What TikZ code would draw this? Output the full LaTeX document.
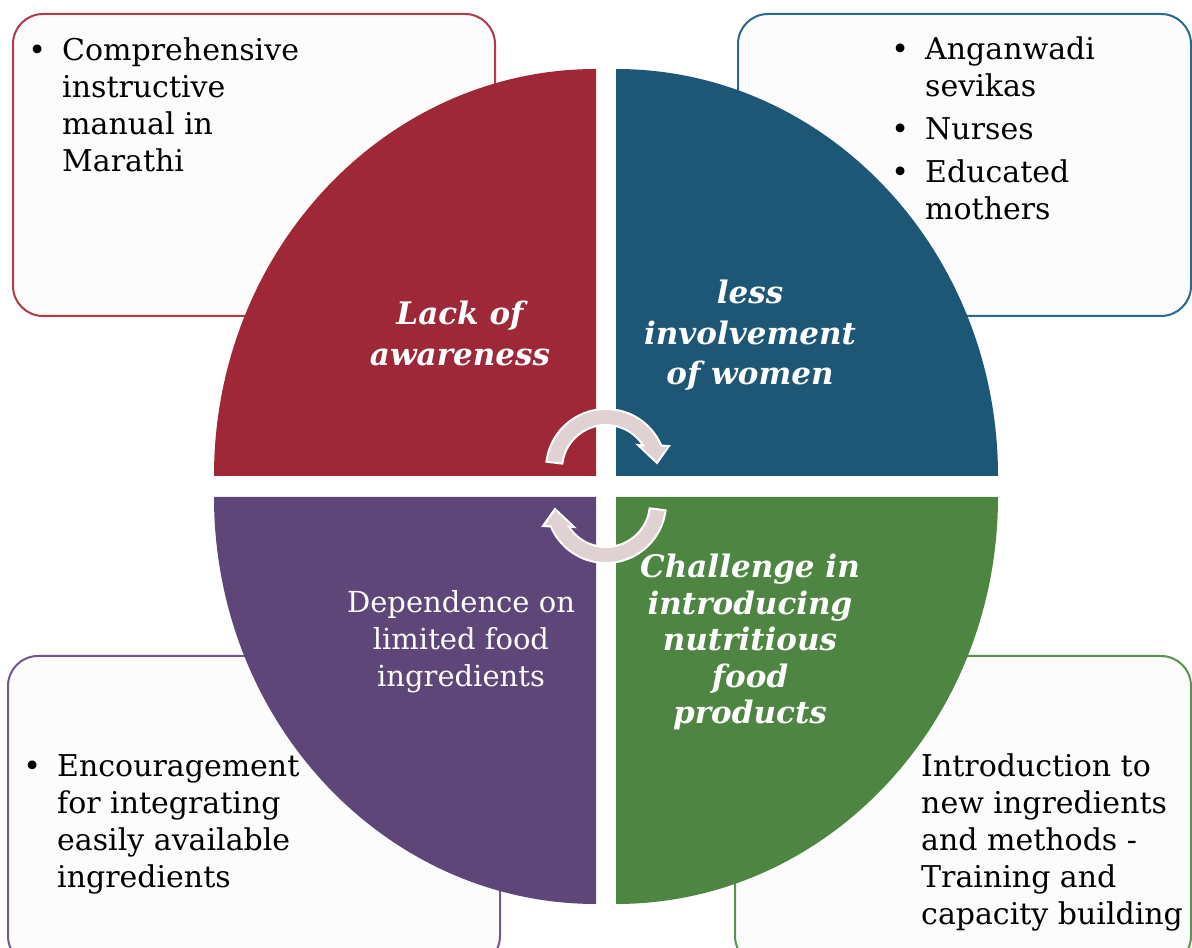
\documentclass[tikz,border=0pt]{standalone}
\usepackage{fontspec}
\setmainfont{DejaVu Serif}
% stacked lines whose first baseline is the box baseline
\newcommand\leftrows[1]{\vtop{\halign{##\hfil\cr#1\crcr}}}
\newcommand\midrows[1]{\vtop{\halign{\hfil##\hfil\cr#1\crcr}}}
\newcommand\bul{\makebox[50pt][c]{\textbullet}}
\newcommand\ind{\kern50pt\relax}
\begin{document}
\begin{tikzpicture}[x=1pt,y=1pt]
\definecolor{qred}{RGB}{159,40,56}
\definecolor{qblue}{RGB}{30,86,118}
\definecolor{qgreen}{RGB}{78,133,66}
\definecolor{qpurple}{RGB}{94,71,120}
\definecolor{bred}{RGB}{178,58,72}
\definecolor{bblue}{RGB}{42,104,142}
\definecolor{bgreen}{RGB}{92,146,80}
\definecolor{bpurple}{RGB}{112,88,140}
\definecolor{boxfill}{RGB}{252,252,252}
\definecolor{arrowfill}{RGB}{224,209,211}
\tikzset{
  infobox/.style={rectangle, rounded corners=30pt, line width=2pt, fill=boxfill, inner sep=0pt},
  boxtext/.style={inner sep=0pt, anchor=base west, text=black,
    font=\fontsize{30}{36.8}\selectfont},
  quadlabel/.style={inner sep=0pt, anchor=base, text=white},
  cyclearrow/.style={fill=arrowfill, draw=white, line width=2pt, line join=miter},
}
\useasboundingbox (0,0) rectangle (1192,948);

% outlined boxes around the circle
\node[infobox, draw=bred,    minimum width=482, minimum height=302] (boxTL) at (254,783) {};
\node[infobox, draw=bblue,   minimum width=453, minimum height=302] (boxTR) at (964.5,783) {};
\node[infobox, draw=bpurple, minimum width=492, minimum height=310] (boxBL) at (254,137) {};
\node[infobox, draw=bgreen,  minimum width=456, minimum height=310] (boxBR) at (963,137) {};

% box texts
\node[boxtext] (tlText) at (12,887)
  {\leftrows{\bul Comprehensive\cr\ind instructive\cr\ind manual in\cr\ind Marathi}};
\node[boxtext] (trText) at (875,888)
  {\leftrows{\bul Anganwadi\cr\ind sevikas\cr\noalign{\vskip6pt}\bul Nurses\cr\noalign{\vskip6pt}\bul Educated\cr\ind mothers}};
\node[boxtext] (blText) at (7,171)
  {\leftrows{\bul Encouragement\cr\ind for integrating\cr\ind easily available\cr\ind ingredients}};
\node[boxtext] (brText) at (871,171)
  {\leftrows{\bul Introduction to\cr\ind new ingredients\cr\ind and methods -\cr\ind Training and\cr\ind capacity building}};

% four quarter discs
\fill[qred]    (596,472) -- (214,472) arc[start angle=180, end angle=90,  x radius=382, y radius=407] -- cycle;
\fill[qblue]   (616,472) -- (616,879) arc[start angle=90,  end angle=0,   x radius=382, y radius=407] -- cycle;
\fill[qgreen]  (616,451) -- (998,451) arc[start angle=0,   end angle=-90, x radius=382, y radius=407] -- cycle;
\fill[qpurple] (596,451) -- (596,44)  arc[start angle=270, end angle=180, x radius=382, y radius=407] -- cycle;

% quarter labels
\node[quadlabel, font=\fontsize{31}{41}\selectfont\bfseries\itshape] (lblRed) at (460,623)
  {\midrows{Lack of\cr awareness}};
\node[quadlabel, font=\fontsize{31}{40.5}\selectfont\bfseries\itshape] (lblBlue) at (750,644)
  {\midrows{less\cr involvement\cr of women}};
\node[quadlabel, font=\fontsize{31}{36.5}\selectfont\bfseries\itshape] (lblGreen) at (750,370)
  {\midrows{Challenge in\cr introducing\cr nutritious\cr food\cr products}};
\node[quadlabel, font=\fontsize{29}{37}\selectfont] (lblPurple) at (461,335)
  {\midrows{Dependence on\cr limited food\cr ingredients}};

% circular arrows in the middle
\path[cyclearrow] (606,479) ++(173:60)
  arc[start angle=173, end angle=23, radius=60]
  -- (669,502) -- (657,485) -- (638,503) -- (643.2,502.5)
  arc[start angle=32.3, end angle=173, radius=44] -- cycle;
\begin{scope}[rotate around={180:(606,462)}]
\path[cyclearrow] (606,479) ++(173:60)
  arc[start angle=173, end angle=23, radius=60]
  -- (669,502) -- (657,485) -- (638,503) -- (643.2,502.5)
  arc[start angle=32.3, end angle=173, radius=44] -- cycle;
\end{scope}
\end{tikzpicture}
\end{document}
